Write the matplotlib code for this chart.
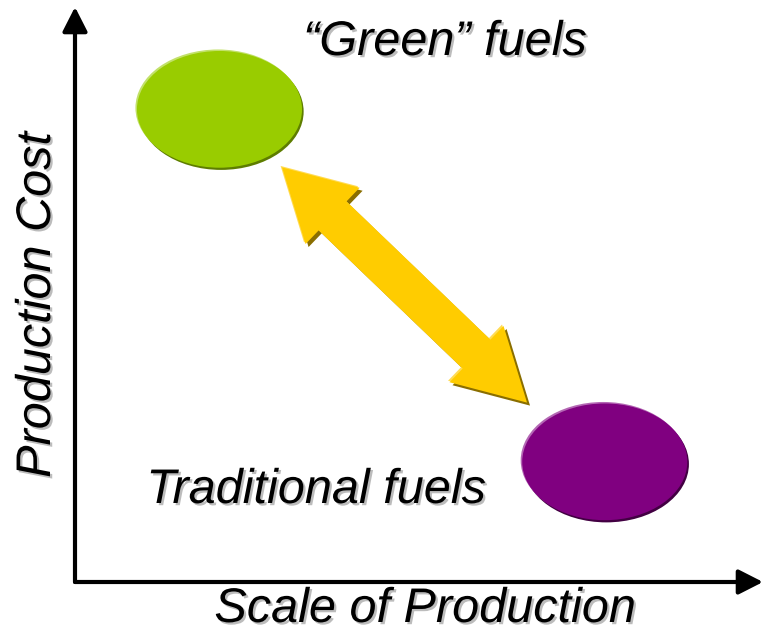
import matplotlib
matplotlib.use("Agg")
import matplotlib.pyplot as plt
import numpy as np
from matplotlib.patches import Ellipse, Polygon, FancyArrowPatch
from matplotlib.transforms import IdentityTransform, offset_copy
import matplotlib.patheffects as pe

# ---- data (conceptual positions on the two axes, 0..1) ----
fuels = ["\u201cGreen\u201d fuels", "Traditional fuels"]
scale = [0.21, 0.77]          # scale of production
cost = [0.822, 0.209]         # production cost
fuel_colors = ["#99CC00", "#800080"]
x_label = "Scale of Production"
y_label = "Production Cost"

W, H = 764, 632
fig = plt.figure(figsize=(W / 100, H / 100), dpi=100)
fig.patch.set_facecolor("white")

# axes region (pixels): x 75..763, y 7..582 (top-down)
ax = fig.add_axes([75 / W, (H - 582) / H, (763 - 75) / W, (582 - 7) / H])
ax.set_xlim(0, 1)
ax.set_ylim(0, 1)
ax.axis("off")

# axis arrows
for end in [(1, 0), (0, 1)]:
    ax.add_patch(FancyArrowPatch((0, 0), end, transform=ax.transAxes,
                                 arrowstyle="-|>,head_length=0.55,head_width=0.28",
                                 mutation_scale=27, lw=3.0, color="black",
                                 shrinkA=0, shrinkB=0, clip_on=False))

# ellipses with highlight / shadow rims
ell_w, ell_h = 0.240, 0.203
light = ["#C2E16A", "#B467B4"]
dark = ["#5E7D00", "#420042"]
for i in range(len(fuels)):
    for col, dx, dy in [(dark[i], 1.6, -2.2), (light[i], -1.5, 1.5), (fuel_colors[i], 0, 0)]:
        tr = offset_copy(ax.transData, fig=fig, x=dx, y=dy, units="dots")
        ax.add_patch(Ellipse((scale[i], cost[i]), ell_w, ell_h, transform=tr,
                             facecolor=col, edgecolor="none", clip_on=False))

# double-headed block arrow between the two groups
fig.canvas.draw()
p1 = ax.transData.transform((0.301, 0.721))
p2 = ax.transData.transform((0.657, 0.312))
u = (p2 - p1) / np.linalg.norm(p2 - p1)
n = np.array([-u[1], u[0]])
hl, hw, sw = 70, 39, 20
pts = [p1, p1 + hl * u + hw * n, p1 + hl * u + sw * n, p2 - hl * u + sw * n,
       p2 - hl * u + hw * n, p2, p2 - hl * u - hw * n, p2 - hl * u - sw * n,
       p1 + hl * u - sw * n, p1 + hl * u - hw * n]
pts = np.array(pts)
for col, dx, dy in [("#8A6E00", 3, -3), ("#FFDC55", -1.5, 1.5), ("#FFCC00", 0, 0)]:
    ax.add_patch(Polygon(pts + np.array([dx, dy]), closed=True, transform=IdentityTransform(),
                         facecolor=col, edgecolor="none", clip_on=False))

# text labels
shadow = [pe.withSimplePatchShadow(offset=(1.6, -1.6), shadow_rgbFace="#a0a0a0", alpha=0.7)]
fs = 35
fig.text(445 / W, 1 - 55 / H, fuels[0], ha="center", va="baseline", fontsize=fs,
         style="italic", family="Liberation Sans", path_effects=shadow)
fig.text(316 / W, 1 - 503 / H, fuels[1], ha="center", va="baseline", fontsize=fs,
         style="italic", family="Liberation Sans", path_effects=shadow)
fig.text(425 / W, 1 - 622 / H, x_label, ha="center", va="baseline", fontsize=fs,
         style="italic", family="Liberation Sans", path_effects=shadow)
fig.text(50 / W, 1 - 305 / H, y_label, ha="center", va="baseline", fontsize=fs,
         style="italic", family="Liberation Sans", rotation=90, rotation_mode="anchor",
         path_effects=shadow)

fig.savefig("out.png", dpi=100, facecolor="white")
